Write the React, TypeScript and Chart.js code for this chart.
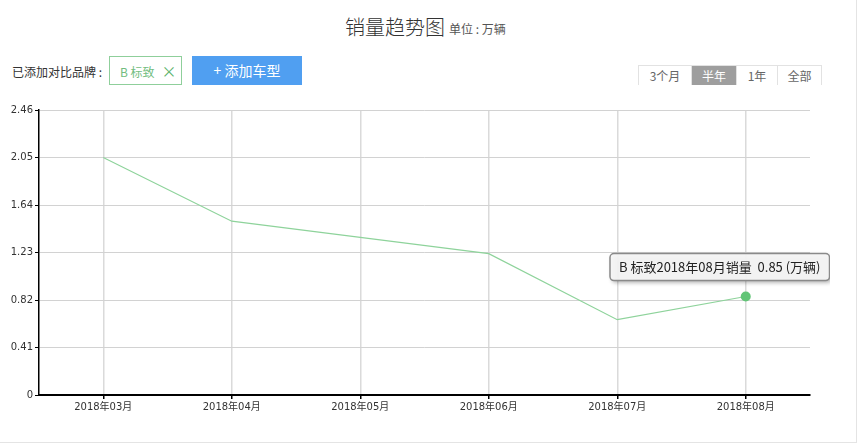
import React, { useEffect, useRef } from "react";
import { Chart, registerables } from "chart.js";

Chart.register(...registerables);

const categories = ["2018年03月", "2018年04月", "2018年05月", "2018年06月", "2018年07月", "2018年08月"];
const salesValues = [2.05, 1.5, 1.36, 1.22, 0.65, 0.85];
const yTickValues = [0, 0.41, 0.82, 1.23, 1.64, 2.05, 2.46];
const seriesName = "B 标致";
const unitLabel = "万辆";
const rangeOptions = ["3个月", "半年", "1年", "全部"];
const activeRange = "半年";
const activeIndex = 5;

const tickFont = { family: "'DejaVu Sans', 'Noto Sans CJK SC', sans-serif", size: 10 };

const tooltipPlugin = {
  id: "fixedTooltip",
  afterDraw(chart: any) {
    const meta = chart.getDatasetMeta(0);
    const pt = meta.data[activeIndex];
    if (!pt) return;
    const ctx = chart.ctx;
    const text = `${seriesName}${categories[activeIndex]}销量  ${salesValues[activeIndex].toFixed(2)} (${unitLabel})`;
    ctx.save();
    ctx.font = "13px 'Noto Sans CJK SC', sans-serif";
    const tw = ctx.measureText(text).width;
    const w = tw + 18;
    const h = 27;
    const cx = pt.x - 26;
    const left = cx - w / 2;
    const top = pt.y - 43;
    ctx.shadowColor = "rgba(0,0,0,0.35)";
    ctx.shadowBlur = 4;
    ctx.shadowOffsetX = 2;
    ctx.shadowOffsetY = 2;
    ctx.beginPath();
    ctx.roundRect(left, top, w, h, 4);
    ctx.fillStyle = "rgba(246,246,246,0.95)";
    ctx.fill();
    ctx.shadowColor = "transparent";
    ctx.lineWidth = 1.5;
    ctx.strokeStyle = "#8a8a8a";
    ctx.stroke();
    ctx.fillStyle = "#222";
    ctx.textBaseline = "middle";
    ctx.textAlign = "left";
    ctx.fillText(text, left + 9, top + h / 2 + 0.5);
    ctx.restore();
  },
};

function LineChart() {
  const ref = useRef<HTMLCanvasElement>(null);
  useEffect(() => {
    if (!ref.current) return;
    const chart = new Chart(ref.current, {
      type: "line",
      data: {
        labels: categories,
        datasets: [
          {
            label: seriesName,
            data: salesValues,
            borderColor: "#8ed39b",
            borderWidth: 1.2,
            backgroundColor: "#62c577",
            pointBackgroundColor: "#62c577",
            pointBorderWidth: 0,
            pointRadius: (c: any) => (c.dataIndex === activeIndex ? 5 : 0),
            tension: 0,
            fill: false,
          },
        ],
      },
      options: {
        animation: false,
        responsive: false,
        maintainAspectRatio: false,
        events: [],
        layout: { padding: { top: 10, right: 20, left: 0, bottom: 0 } },
        plugins: { legend: { display: false }, tooltip: { enabled: false } },
        scales: {
          x: {
            type: "category",
            offset: true,
            afterFit: (s: any) => {
              s.height = 49;
            },
            grid: { color: "#dadada", lineWidth: 1.5, tickColor: "#000", tickLength: 4, offset: false },
            border: { color: "#000", width: 2 },
            ticks: { color: "#333", font: tickFont, padding: 2, maxRotation: 0 },
          },
          y: {
            min: 0,
            max: 2.46,
            afterFit: (s: any) => {
              s.width = 39;
            },
            afterBuildTicks: (s: any) => {
              s.ticks = yTickValues.map((v) => ({ value: v }));
            },
            grid: { color: "#d2d2d2", lineWidth: 1, tickColor: "#000", tickLength: 4 },
            border: { color: "#000", width: 1.5 },
            ticks: {
              color: "#333",
              font: tickFont,
              padding: 2,
              callback: (v: any) => (v === 0 ? "0" : Number(v).toFixed(2)),
            },
          },
        },
      },
      plugins: [tooltipPlugin],
    });
    return () => chart.destroy();
  }, []);
  return (
    <canvas
      ref={ref}
      width={830}
      height={344}
      style={{ position: "absolute", left: 0, top: 100, width: 830, height: 344 }}
    />
  );
}

export default function App() {
  const cjk = "'Noto Sans CJK SC', sans-serif";
  return (
    <div style={{ position: "absolute", left: 0, top: 0, width: 860, height: 444, overflow: "hidden", fontFamily: cjk, background: "#fff" }}>
      <div style={{ position: "absolute", left: -2, top: -2, width: 857, height: 443, border: "1px solid #e4e4e4" }} />
      <div style={{ position: "absolute", left: 345, top: 13, whiteSpace: "nowrap", fontSize: 20, lineHeight: "28px", color: "#333", fontWeight: 300 }}>
        销量趋势图
      </div>
      <div style={{ position: "absolute", left: 449, top: 20, whiteSpace: "nowrap", fontSize: 12, lineHeight: "18px", color: "#555" }}>
        单位 : {unitLabel}
      </div>
      <div style={{ position: "absolute", left: 12, top: 63, fontSize: 12, color: "#333", whiteSpace: "nowrap" }}>已添加对比品牌 :</div>
      <div
        style={{
          position: "absolute",
          left: 109,
          top: 56,
          width: 71,
          height: 27,
          border: "1px solid #8fcf9b",
          color: "#72bd80",
          fontSize: 12,
          lineHeight: "27px",
          whiteSpace: "nowrap",
        }}
      >
        <span style={{ marginLeft: 10 }}>{seriesName}</span>
        <span style={{ marginLeft: 7, fontSize: 15, color: "#5cb26b" }}>×</span>
      </div>
      <div
        style={{
          position: "absolute",
          left: 192,
          top: 56,
          width: 110,
          height: 29,
          background: "#509ff1",
          color: "#fff",
          fontSize: 14,
          lineHeight: "29px",
          textAlign: "center",
          whiteSpace: "nowrap",
        }}
      >
        + 添加车型
      </div>
      <div style={{ position: "absolute", left: 638, top: 65, height: 20, display: "flex", border: "1px solid #e2e2e2", boxSizing: "border-box" }}>
        {rangeOptions.map((r, i) => {
          const widths = [52, 45, 41, 44];
          const on = r === activeRange;
          return (
            <div
              key={r}
              style={{
                width: widths[i],
                height: 19,
                lineHeight: "19px",
                textAlign: "center",
                fontSize: 12,
                color: on ? "#fff" : "#666",
                background: on ? "#9e9e9e" : "#fff",
                borderLeft: i > 0 ? "1px solid #e2e2e2" : "none",
                boxSizing: "border-box",
              }}
            >
              {r}
            </div>
          );
        })}
      </div>
      <LineChart />
    </div>
  );
}
